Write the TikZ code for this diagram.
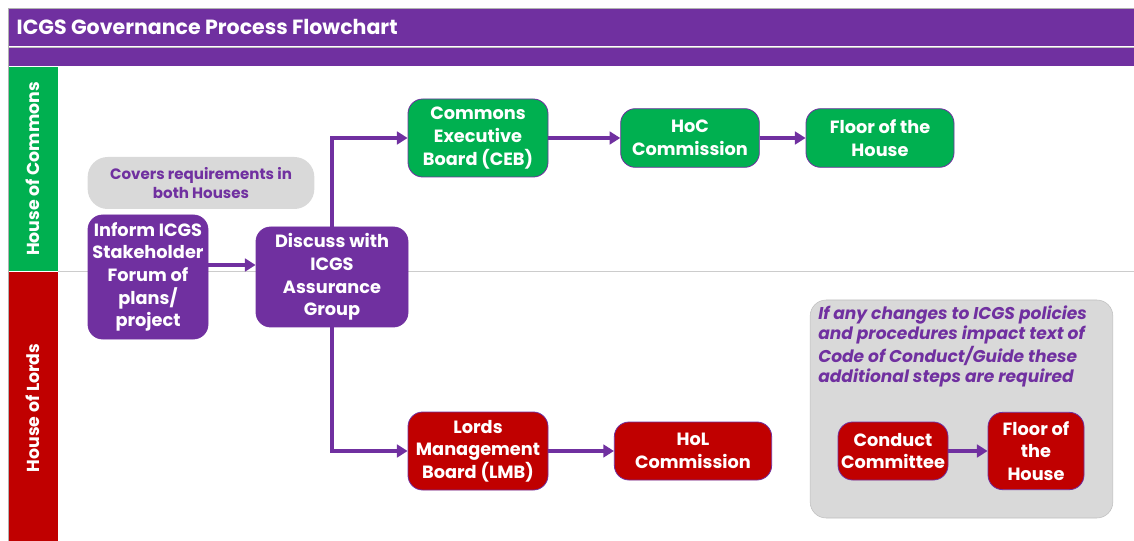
\documentclass[tikz,border=0pt]{standalone}
\usepackage{fontspec}
\setmainfont{Poppins}
\usetikzlibrary{arrows.meta}
\definecolor{icgspurple}{HTML}{7030A0}
\definecolor{icgsgreen}{HTML}{00B050}
\definecolor{icgsred}{HTML}{C00000}
\definecolor{notegray}{HTML}{D9D9D9}
\tikzset{
	stepbox/.style={rounded corners=11pt, draw=icgspurple, line width=0.6pt, text=white, font=\fontsize{13.3}{17}\selectfont\bfseries, align=center, inner sep=1pt},
	commonsbox/.style={stepbox, fill=icgsgreen},
	lordsbox/.style={stepbox, fill=icgsred},
	groupbox/.style={stepbox, fill=icgspurple},
	lanelabel/.style={rotate=90, text=white, font=\fontsize{13}{15}\selectfont\bfseries},
	flow/.style={-{Triangle[length=8pt,width=9.5pt]}, draw=icgspurple, line width=2.4pt},
}

\begin{document}
\begin{tikzpicture}[x=0.75pt, y=-0.75pt]
		%%%%% START %%%%%
		\useasboundingbox (0, 0) rectangle (1134, 541);
		
		\fill[icgspurple] (9, 9) rectangle (1134, 46);
		\fill[icgspurple] (9, 48) rectangle (1134, 66);
		\draw[black!25] (9, 47) -- (1134, 47);
		\draw[black!30] (8, 541) -- (8, 8) -- (1134, 8);
		\node[anchor=west, text=white, font=\fontsize{15.4}{19}\selectfont\bfseries] (title) at (12, 27) {ICGS Governance Process Flowchart};
		
		\fill[icgsgreen] (9, 67) rectangle (58, 271);
		\fill[icgsred] (9, 272) rectangle (58, 541);
		\draw[black!20] (58, 271) -- (1134, 271);
		\node[lanelabel] (commons) at (33, 169) {House of Commons};
		\node[lanelabel] (lords) at (33, 408) {House of Lords};
		
		\node[fill=notegray, rounded corners=15pt, text=icgspurple, align=center, minimum width=170pt, minimum height=39pt, font=\fontsize{11.3}{14.5}\selectfont\bfseries] (covers) at (201, 183) {Covers requirements in\\both Houses};
		
		\node[groupbox, minimum width=90pt, minimum height=93pt] (inform) at (148, 277) {Inform ICGS\\Stakeholder\\Forum of\\plans/\\project};
		\node[groupbox, minimum width=114pt, minimum height=75pt] (discuss) at (332, 277) {Discuss with\\ICGS\\Assurance\\Group};
		
		\node[commonsbox, minimum width=105pt, minimum height=58.5pt] (ceb) at (478, 138) {Commons\\Executive\\Board (CEB)};
		\node[commonsbox, minimum width=104pt, minimum height=44pt] (hoc) at (690, 138) {HoC\\Commission};
		\node[commonsbox, minimum width=111pt, minimum height=44pt] (cfloor) at (880, 138) {Floor of the\\House};
		
		\node[lordsbox, minimum width=105pt, minimum height=58.5pt] (lmb) at (478, 451) {Lords\\Management\\Board (LMB)};
		\node[lordsbox, minimum width=118pt, minimum height=43.5pt] (hol) at (693, 451) {HoL\\Commission};
		
		\node[fill=notegray, draw=black!25, rounded corners=12pt, minimum width=227pt, minimum height=163.5pt] (note) at (961.5, 409) {};
		\node[anchor=north west, text=icgspurple, align=left, inner sep=0pt, font=\fontsize{12.8}{15}\selectfont\bfseries\itshape] (notetext) at (818, 306) {If any changes to ICGS policies\\and procedures impact text of\\Code of Conduct/Guide these\\additional steps are required};
		\node[lordsbox, minimum width=82.5pt, minimum height=43.5pt] (conduct) at (893, 451) {Conduct\\Committee};
		\node[lordsbox, minimum width=72pt, minimum height=58pt] (lfloor) at (1036, 451) {Floor of\\the\\House};
		
		\draw[flow] ([yshift=9pt]inform.east) -- ([yshift=9pt]discuss.west);
		\draw[flow] (discuss.north) |- (ceb.west);
		\draw[flow] (discuss.south) |- (lmb.west);
		\draw[flow] (ceb.east) -- (hoc.west);
		\draw[flow] (hoc.east) -- (cfloor.west);
		\draw[flow] (lmb.east) -- (hol.west);
		\draw[flow] (conduct.east) -- (lfloor.west);
		%%%%% END %%%%%
	\end{tikzpicture}
\end{document}
